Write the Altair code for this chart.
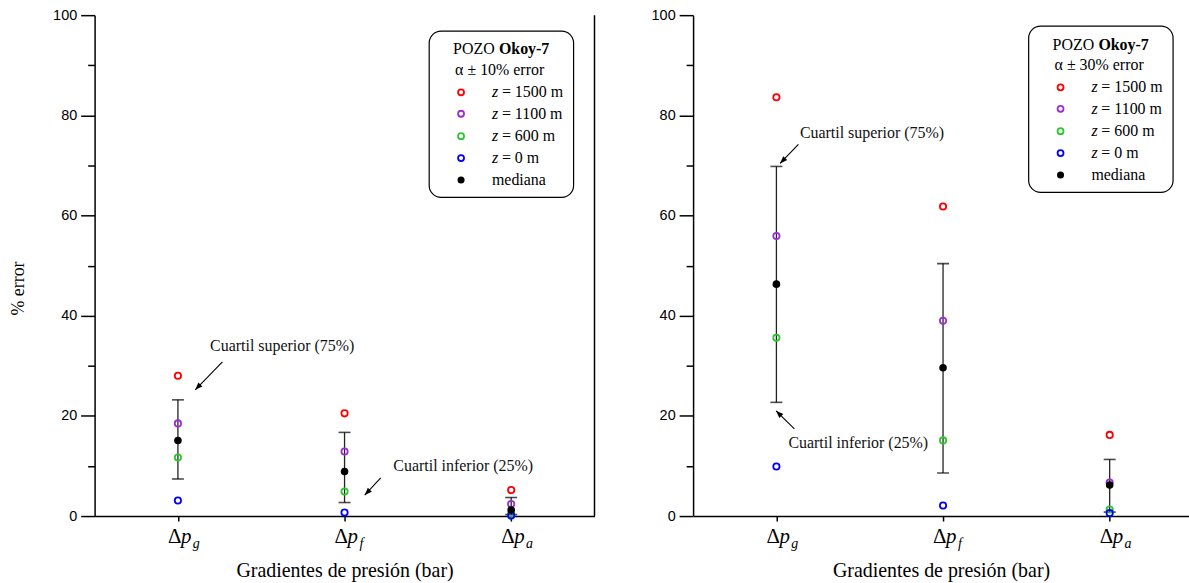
import altair as alt
import pandas as pd

# ---------------- data ----------------
cat_pos = [1, 2, 3]               # Δp_g, Δp_f, Δp_a
cat_sub = ["g", "f", "a"]
series_names = ["z1500", "z1100", "z600", "z0"]
series_colors = ["#ff0000", "#9a2fd0", "#2ec62e", "#0000ff"]

# Left panel: α ± 10% error
l_z1500 = [28.0, 20.5, 5.2]
l_z1100 = [18.5, 12.9, 2.4]
l_z600 = [11.7, 4.9, 0.4]
l_z0 = [3.1, 0.7, 0.1]
l_median = [15.1, 8.9, 1.2]
l_q75 = [23.2, 16.7, 3.7]
l_q25 = [7.4, 2.7, 0.3]

# Right panel: α ± 30% error
r_z1500 = [83.6, 61.8, 16.2]
r_z1100 = [55.9, 39.0, 6.7]
r_z600 = [35.6, 15.1, 1.3]
r_z0 = [9.9, 2.1, 0.6]
r_median = [46.3, 29.6, 6.2]
r_q75 = [69.8, 50.4, 11.3]
r_q25 = [22.7, 8.6, 0.8]

# annotations (data coordinates): text x, text y, arrow tail x/y, arrow tip x/y, head angle
l_ann_text = ["Cuartil superior (75%)", "Cuartil inferior (25%)"]
l_ann_tx = [1.193, 2.293]
l_ann_ty = [34.0, 9.9]
l_arr_x1 = [1.267, 2.217]
l_arr_y1 = [30.8, 7.6]
l_arr_x2 = [1.104, 2.121]
l_arr_y2 = [25.2, 4.2]
l_arr_ang = [224, 224]

r_ann_text = ["Cuartil superior (75%)", "Cuartil inferior (25%)"]
r_ann_tx = [1.141, 1.072]
r_ann_ty = [76.5, 14.6]
r_arr_x1 = [1.132, 1.108]
r_arr_y1 = [74.2, 17.4]
r_arr_x2 = [1.022, 0.998]
r_arr_y2 = [70.4, 21.0]
r_arr_ang = [224, 315]

legend_labels = ["= 1500 m", "= 1100 m", "= 600 m", "= 0 m"]

SERIF = "Liberation Serif"
SANS = "Liberation Sans"
ARROW = "M0,0L0.38,1L-0.38,1Z"
TICK_TEST = "datum.value % 20 === 0"


def panel(z1500, z1100, z600, z0, med, q75, q25,
          ann_text, ann_tx, ann_ty, ax1, ay1, ax2, ay2, aang,
          pct, width, xmax, leg_left, leg_top, ytitle, border):
    height = 503
    xs = alt.Scale(domain=[0.5, xmax], nice=False, zero=False)
    ys = alt.Scale(domain=[0, 100], nice=False)
    xaxis = alt.Axis(values=cat_pos, labels=False, tickSize=5, grid=False,
                     title="Gradientes de presión (bar)", titleFont=SERIF,
                     titleFontSize=20, titleFontWeight="normal", titlePadding=39)
    common = dict(values=list(range(0, 101, 10)), grid=False,
                  labelExpr=f"{TICK_TEST} ? datum.label : ''",
                  tickSize={"condition": {"test": TICK_TEST, "value": 14}, "value": 7},
                  labelFont=SANS, labelFontSize=14.5, labelPadding=4)
    if ytitle:
        yaxis = alt.Axis(title=ytitle, titleFont=SERIF, titleFontSize=18, titleFontWeight="normal",
                         titlePadding=25, titleY=274, **common)
    else:
        yaxis = alt.Axis(title="", **common)

    stats = pd.DataFrame({"x": cat_pos, "med": med, "q75": q75, "q25": q25, "sub": cat_sub})
    rows = []
    for name, vals in zip(series_names, [z1500, z1100, z600, z0]):
        for c, v in zip(cat_pos, vals):
            rows.append({"x": c, "v": v, "series": name})
    pts = pd.DataFrame(rows)

    X = lambda f: alt.X(f, type="quantitative", scale=xs, axis=xaxis)
    Y = lambda f: alt.Y(f, type="quantitative", scale=ys, axis=yaxis)

    rule = alt.Chart(stats).mark_rule(color="#222222", strokeWidth=1.3).encode(
        x=X("x"), y=Y("q25"), y2="q75")
    cap_hi = alt.Chart(stats).mark_tick(orient="horizontal", size=12, thickness=1.6, color="black").encode(
        x=X("x"), y=Y("q75"))
    cap_lo = alt.Chart(stats).mark_tick(orient="horizontal", size=12, thickness=1.6, color="black").encode(
        x=X("x"), y=Y("q25"))
    circles = alt.Chart(pts).mark_point(shape="circle", filled=False, size=40, strokeWidth=1.8, opacity=1).encode(
        x=X("x"), y=Y("v"),
        color=alt.Color("series:N", scale=alt.Scale(domain=series_names, range=series_colors), legend=None))
    median = alt.Chart(stats).mark_point(shape="circle", filled=True, size=58, color="black", opacity=1).encode(
        x=X("x"), y=Y("med"))

    # category labels Δp_sub
    delta = alt.Chart(stats).mark_text(text="Δ", font=SERIF, fontSize=21, align="right",
                                        baseline="alphabetic", dx=3.5, color="black").encode(
        x=X("x"), y=alt.value(530))
    pchar = alt.Chart(stats).mark_text(text="p", font=SERIF, fontSize=21, fontStyle="italic", align="left",
                                        baseline="alphabetic", dx=3, color="black").encode(
        x=X("x"), y=alt.value(530))
    subs = alt.Chart(stats).mark_text(font=SERIF, fontSize=14, fontStyle="italic", align="left",
                                       baseline="alphabetic", dx=15, color="black").encode(
        x=X("x"), y=alt.value(535), text="sub:N")

    ann = pd.DataFrame({"t": ann_text, "tx": ann_tx, "ty": ann_ty, "x1": ax1, "y1": ay1,
                        "x2": ax2, "y2": ay2, "ang": aang})
    ann_t = alt.Chart(ann).mark_text(font=SERIF, fontSize=16, align="left", baseline="middle",
                                      color="#111111").encode(x=X("tx"), y=Y("ty"), text="t:N")
    ann_l = alt.Chart(ann).mark_rule(color="black", strokeWidth=1.1).encode(
        x=X("x1"), y=Y("y1"), x2="x2", y2="y2")
    ann_h = alt.Chart(ann).mark_point(shape=ARROW, filled=True, size=220, color="black", opacity=1).encode(
        x=X("x2"), y=Y("y2"), angle=alt.Angle("ang:Q", scale=None))

    layers = [rule, cap_hi, cap_lo, circles, median, delta, pchar, subs, ann_l, ann_h, ann_t]

    if border:
        bdf = pd.DataFrame({"x": [xmax], "y0": [0], "y1": [100]})
        layers.append(alt.Chart(bdf).mark_rule(color="black", strokeWidth=1.5).encode(
            x=X("x"), y=Y("y0"), y2="y1"))

    # legend box
    one = pd.DataFrame({"k": [0]})
    box_w, box_h = 145, 167
    layers.append(alt.Chart(one).mark_rect(cornerRadius=12, fill="white", stroke="black", strokeWidth=1.2).encode(
        x=alt.value(leg_left), x2=alt.value(leg_left + box_w),
        y=alt.value(leg_top), y2=alt.value(leg_top + box_h)))
    row_y = [18.5, 39.5, 61.5, 83, 105.5, 127.5, 149.5]
    layers.append(alt.Chart(one).mark_text(text="POZO", font=SERIF, fontSize=16, align="left", baseline="middle",
                                           color="black").encode(
        x=alt.value(leg_left + 24), y=alt.value(leg_top + row_y[0])))
    layers.append(alt.Chart(one).mark_text(text="Okoy-7", font=SERIF, fontSize=16, fontWeight="bold",
                                           align="left", baseline="middle", color="black").encode(
        x=alt.value(leg_left + 70), y=alt.value(leg_top + row_y[0])))
    layers.append(alt.Chart(one).mark_text(text=f"α ± {pct}% error", font=SERIF, fontSize=16, align="left",
                                           baseline="middle", color="black").encode(
        x=alt.value(leg_left + 26), y=alt.value(leg_top + row_y[1])))
    for i, (col, lab) in enumerate(zip(series_colors, legend_labels)):
        yy = leg_top + row_y[2 + i]
        layers.append(alt.Chart(one).mark_point(shape="circle", filled=False, size=36, strokeWidth=1.8,
                                                color=col, opacity=1).encode(
            x=alt.value(leg_left + 32), y=alt.value(yy)))
        layers.append(alt.Chart(one).mark_text(text="z", font=SERIF, fontSize=16, fontStyle="italic",
                                               align="left", baseline="middle", color="black").encode(
            x=alt.value(leg_left + 63), y=alt.value(yy)))
        layers.append(alt.Chart(one).mark_text(text=lab, font=SERIF, fontSize=16, align="left",
                                               baseline="middle", color="black").encode(
            x=alt.value(leg_left + 73), y=alt.value(yy)))
    yy = leg_top + row_y[6]
    layers.append(alt.Chart(one).mark_point(shape="circle", filled=True, size=50, color="black", opacity=1).encode(
        x=alt.value(leg_left + 32), y=alt.value(yy)))
    layers.append(alt.Chart(one).mark_text(text="mediana", font=SERIF, fontSize=16, align="left",
                                           baseline="middle", color="black").encode(
        x=alt.value(leg_left + 63), y=alt.value(yy)))

    return alt.layer(*layers).properties(width=width, height=height)


left = panel(l_z1500, l_z1100, l_z600, l_z0, l_median, l_q75, l_q25,
             l_ann_text, l_ann_tx, l_ann_ty, l_arr_x1, l_arr_y1, l_arr_x2, l_arr_y2, l_arr_ang,
             10, 502, 3.5, 336, 16, "% error", True)
right = panel(r_z1500, r_z1100, r_z600, r_z0, r_median, r_q75, r_q25,
              r_ann_text, r_ann_tx, r_ann_ty, r_arr_x1, r_arr_y1, r_arr_x2, r_arr_y2, r_arr_ang,
              30, 498, 3.476, 337, 11, None, False)

chart = alt.hconcat(left, right, spacing=55).properties(
    padding={"left": 9, "top": 6, "right": 0, "bottom": 0}
).configure_view(strokeWidth=0).configure_axis(
    domainColor="black", tickColor="black", labelColor="black", titleColor="black",
    domainWidth=1.5, tickWidth=1.5
).configure_axisX(
    titleFont=SERIF, titleFontSize=20, titleFontWeight="normal"
).configure_axisY(
    titleFont=SERIF, titleFontSize=18, titleFontWeight="normal"
)

chart.save("out.html", embed_options={"renderer": "svg", "actions": False})
